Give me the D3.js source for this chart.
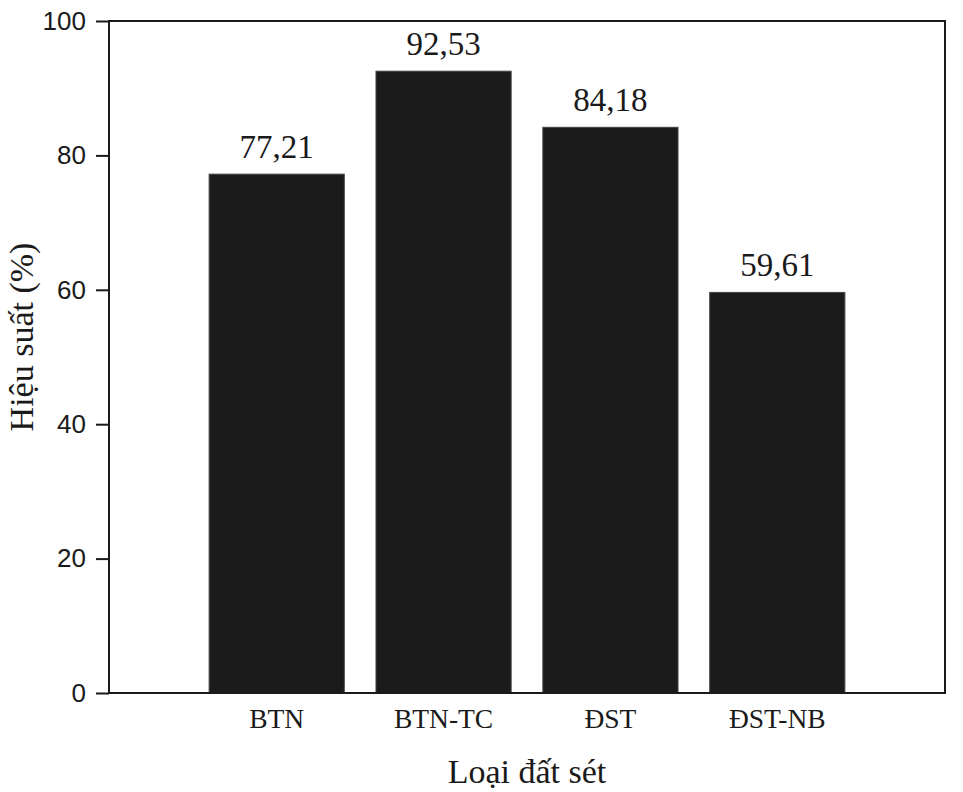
<!DOCTYPE html>
<meta charset="utf-8">
<script src="https://d3js.org/d3.v7.min.js"></script>
<style>
body { margin: 0; background: #fff; }
</style>
<div id="chart"></div>
<script>
// data
var categories = ["BTN", "BTN-TC", "ĐST", "ĐST-NB"];
var values = [77.21, 92.53, 84.18, 59.61];
var valueLabels = ["77,21", "92,53", "84,18", "59,61"];
var yTicks = [0, 20, 40, 60, 80, 100];

var W = 963, H = 792;
var margin = {top: 21, right: 18, bottom: 99, left: 109};
var width = W - margin.left - margin.right,
    height = H - margin.top - margin.bottom;

var svg = d3.select("#chart").append("svg")
    .attr("width", W).attr("height", H)
  .append("g")
    .attr("transform", "translate(" + margin.left + "," + margin.top + ")");

var x = d3.scaleBand()
  .domain(categories)
  .range([0, width])
  .paddingInner(0.19)
  .paddingOuter(0.6);

var y = d3.scaleLinear().domain([0, 100]).range([height, 0]);

// bars
svg.selectAll(".bar")
  .data(values)
  .enter().append("rect")
    .attr("class", "bar")
    .attr("x", function(d, i) { return x(categories[i]); })
    .attr("y", function(d) { return y(d); })
    .attr("width", x.bandwidth())
    .attr("height", function(d) { return height - y(d); })
    .style("fill", "#1b1b1b")
    .style("stroke", "#444")
    .style("stroke-width", 1);

// value labels
svg.selectAll(".vlab")
  .data(values)
  .enter().append("text")
    .attr("x", function(d, i) { return x(categories[i]) + x.bandwidth() / 2; })
    .attr("y", function(d) { return y(d) - 16; })
    .attr("text-anchor", "middle")
    .style("font-family", "'Liberation Serif', 'Times New Roman', serif")
    .style("font-size", "33px")
    .style("fill", "#1a1a1a")
    .text(function(d, i) { return valueLabels[i]; });

// y axis
var yAxis = svg.append("g")
  .call(d3.axisLeft(y).tickValues(yTicks).tickSize(13).tickPadding(10));
yAxis.select(".domain").remove();
yAxis.selectAll(".tick line").style("stroke", "#1a1a1a").style("stroke-width", 2);
yAxis.selectAll(".tick text")
  .style("font-family", "'Liberation Sans', Arial, sans-serif")
  .style("font-size", "26px")
  .style("fill", "#1a1a1a");

// x axis labels
var xAxis = svg.append("g")
  .attr("transform", "translate(0," + height + ")")
  .call(d3.axisBottom(x).tickSize(0).tickPadding(14));
xAxis.select(".domain").remove();
xAxis.selectAll(".tick text")
  .attr("dy", 0)
  .attr("y", 35)
  .style("font-family", "'Liberation Serif', 'Times New Roman', serif")
  .style("font-size", "27.5px")
  .style("fill", "#1a1a1a");

// frame
svg.append("rect")
  .attr("x", 0).attr("y", 0)
  .attr("width", width).attr("height", height)
  .style("fill", "none")
  .style("stroke", "#1a1a1a")
  .style("stroke-width", 2);

// axis titles
svg.append("text")
  .attr("x", width / 2)
  .attr("y", height + 90)
  .attr("text-anchor", "middle")
  .style("font-family", "'Liberation Serif', 'Times New Roman', serif")
  .style("font-size", "34px")
  .style("fill", "#1a1a1a")
  .text("Loại đất sét");

svg.append("text")
  .attr("transform", "translate(" + (-76) + "," + (height / 2 - 20) + ") rotate(-90)")
  .attr("text-anchor", "middle")
  .style("font-family", "'Liberation Serif', 'Times New Roman', serif")
  .style("font-size", "34px")
  .style("fill", "#1a1a1a")
  .text("Hiệu suất (%)");
</script>
